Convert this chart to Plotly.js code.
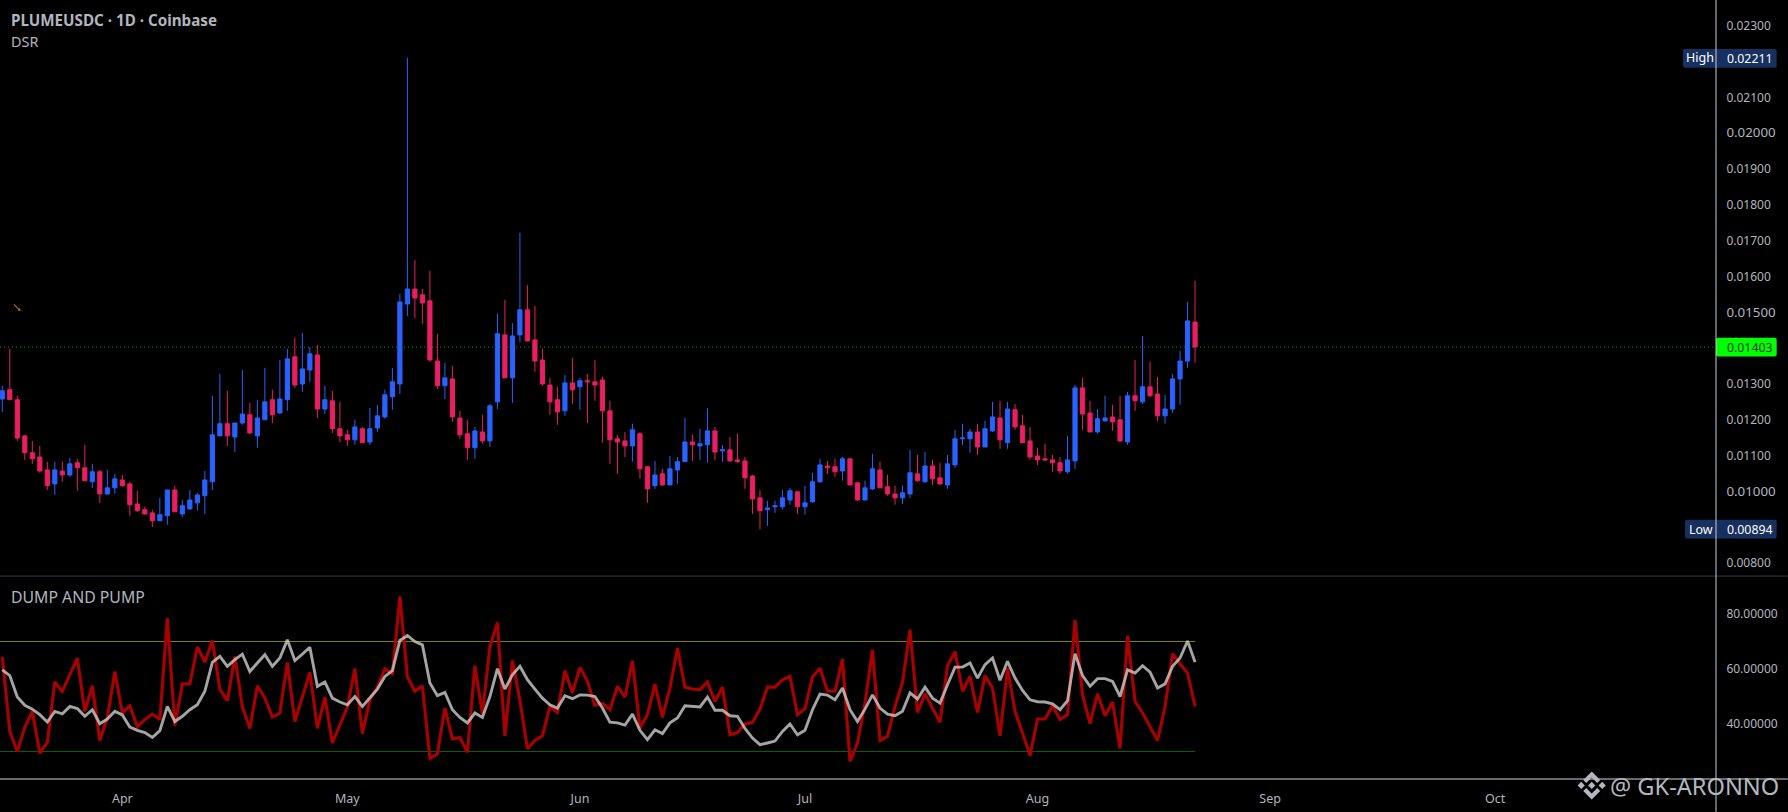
<!DOCTYPE html>
<html>
<head>
<meta charset="utf-8">
<script src="https://cdn.plot.ly/plotly-3.0.1.min.js"></script>
<style>html,body{margin:0;padding:0;background:#000;overflow:hidden}#chart{width:1788px;height:812px}</style>
</head>
<body>
<div id="chart"></div>
<script>
const firstDay = '2025-03-16';
const opens = [0.01258,0.01284,0.01256,0.01155,0.01108,0.01096,0.01060,0.01021,0.01057,0.01046,
0.01080,0.01066,0.01027,0.01055,0.00993,0.01010,0.01032,0.01021,0.00965,0.00949,
0.00940,0.00918,0.00932,0.01004,0.00937,0.00951,0.00968,0.00988,0.01027,0.01155,
0.01189,0.01152,0.01191,0.01214,0.01155,0.01200,0.01256,0.01219,0.01256,0.01376,
0.01300,0.01339,0.01381,0.01230,0.01253,0.01175,0.01158,0.01144,0.01175,0.01138,
0.01177,0.01208,0.01264,0.01300,0.01523,0.01565,0.01549,0.01532,0.01364,0.01295,
0.01314,0.01205,0.01161,0.01122,0.01166,0.01141,0.01250,0.01437,0.01317,0.01437,
0.01507,0.01423,0.01367,0.01297,0.01256,0.01225,0.01303,0.01292,0.01309,0.01306,
0.01311,0.01225,0.01147,0.01141,0.01127,0.01161,0.01069,0.01016,0.01049,0.01018,
0.01060,0.01083,0.01138,0.01127,0.01130,0.01169,0.01113,0.01116,0.01088,0.01085,
0.01043,0.00982,0.00949,0.00957,0.00957,0.00976,0.00999,0.00957,0.00971,0.01027,
0.01071,0.01069,0.01057,0.01091,0.01024,0.00976,0.01007,0.01060,0.01013,0.00993,
0.00982,0.00993,0.01049,0.01027,0.01071,0.01038,0.01018,0.01074,0.01147,0.01147,
0.01166,0.01124,0.01169,0.01205,0.01136,0.01228,0.01183,0.01141,0.01099,0.01091,
0.01088,0.01080,0.01055,0.01085,0.01289,0.01219,0.01166,0.01197,0.01208,0.01200,
0.01138,0.01267,0.01250,0.01292,0.01272,0.01211,0.01230,0.01314,0.01364,0.01473];
const highs = [0.01295,0.01398,0.01267,0.01158,0.01141,0.01127,0.01083,0.01083,0.01083,0.01094,
0.01091,0.01130,0.01077,0.01060,0.01060,0.01049,0.01046,0.01027,0.01002,0.00957,
0.00949,0.00982,0.01004,0.01016,0.00976,0.01004,0.00996,0.01057,0.01267,0.01328,
0.01281,0.01191,0.01339,0.01247,0.01256,0.01345,0.01284,0.01367,0.01398,0.01429,
0.01443,0.01403,0.01409,0.01295,0.01281,0.01250,0.01172,0.01200,0.01180,0.01233,
0.01242,0.01284,0.01345,0.01551,0.02211,0.01646,0.01565,0.01616,0.01440,0.01359,
0.01350,0.01225,0.01200,0.01180,0.01214,0.01244,0.01496,0.01535,0.01470,0.01722,
0.01576,0.01518,0.01398,0.01317,0.01292,0.01325,0.01373,0.01317,0.01328,0.01367,
0.01320,0.01253,0.01158,0.01166,0.01189,0.01166,0.01071,0.01085,0.01063,0.01099,
0.01096,0.01205,0.01158,0.01175,0.01233,0.01180,0.01130,0.01152,0.01161,0.01096,
0.01046,0.01004,0.00974,0.00974,0.01004,0.01010,0.00999,0.01016,0.01052,0.01091,
0.01085,0.01091,0.01096,0.01091,0.01024,0.01030,0.01105,0.01083,0.01046,0.01016,
0.01016,0.01116,0.01102,0.01110,0.01088,0.01080,0.01102,0.01172,0.01189,0.01175,
0.01189,0.01197,0.01250,0.01253,0.01250,0.01244,0.01214,0.01180,0.01122,0.01133,
0.01102,0.01096,0.01155,0.01297,0.01317,0.01253,0.01230,0.01267,0.01242,0.01267,
0.01278,0.01367,0.01434,0.01362,0.01320,0.01270,0.01328,0.01392,0.01529,0.01588];
const lows = [0.01222,0.01256,0.01141,0.01088,0.01077,0.01052,0.01004,0.00990,0.01027,0.01041,
0.01002,0.01030,0.01010,0.00968,0.00990,0.00993,0.01013,0.00932,0.00943,0.00935,
0.00901,0.00918,0.00907,0.00943,0.00929,0.00949,0.00946,0.00937,0.01004,0.01155,
0.01127,0.01110,0.01186,0.01161,0.01122,0.01200,0.01191,0.01216,0.01225,0.01289,
0.01278,0.01306,0.01205,0.01216,0.01163,0.01138,0.01127,0.01130,0.01136,0.01130,
0.01166,0.01203,0.01228,0.01272,0.01490,0.01484,0.01468,0.01362,0.01286,0.01258,
0.01194,0.01147,0.01088,0.01091,0.01133,0.01124,0.01230,0.01317,0.01247,0.01417,
0.01420,0.01334,0.01295,0.01214,0.01186,0.01211,0.01244,0.01228,0.01191,0.01253,
0.01136,0.01077,0.01049,0.01096,0.01083,0.01035,0.00968,0.01007,0.01016,0.01018,
0.01021,0.01083,0.01085,0.01088,0.01080,0.01088,0.01083,0.01083,0.01080,0.01007,
0.00937,0.00894,0.00904,0.00940,0.00949,0.00963,0.00937,0.00935,0.00968,0.01024,
0.01049,0.01041,0.01030,0.01018,0.00974,0.00976,0.01004,0.01010,0.00988,0.00963,
0.00965,0.00982,0.01027,0.01024,0.01018,0.01018,0.01007,0.01066,0.01130,0.01108,
0.01102,0.01124,0.01166,0.01119,0.01119,0.01172,0.01136,0.01088,0.01074,0.01085,
0.01055,0.01049,0.01049,0.01063,0.01172,0.01166,0.01161,0.01194,0.01169,0.01138,
0.01130,0.01225,0.01244,0.01264,0.01197,0.01189,0.01219,0.01242,0.01345,0.01359];
const closes = [0.01281,0.01256,0.01149,0.01108,0.01091,0.01057,0.01016,0.01060,0.01046,0.01077,
0.01066,0.01030,0.01055,0.00993,0.01010,0.01035,0.01016,0.00963,0.00946,0.00937,
0.00918,0.00935,0.01004,0.00943,0.00960,0.00976,0.00990,0.01032,0.01158,0.01189,
0.01155,0.01191,0.01216,0.01163,0.01205,0.01250,0.01214,0.01258,0.01370,0.01297,
0.01342,0.01384,0.01230,0.01256,0.01175,0.01155,0.01144,0.01180,0.01136,0.01175,
0.01211,0.01270,0.01306,0.01529,0.01565,0.01540,0.01526,0.01367,0.01295,0.01317,
0.01208,0.01158,0.01122,0.01169,0.01141,0.01239,0.01440,0.01317,0.01434,0.01507,
0.01420,0.01364,0.01300,0.01250,0.01222,0.01303,0.01284,0.01309,0.01306,0.01297,
0.01225,0.01144,0.01138,0.01127,0.01172,0.01063,0.01007,0.01046,0.01018,0.01063,
0.01083,0.01138,0.01130,0.01133,0.01169,0.01110,0.01116,0.01085,0.01083,0.01038,
0.00979,0.00946,0.00954,0.00960,0.00982,0.01002,0.00957,0.00968,0.01027,0.01074,
0.01066,0.01055,0.01091,0.01018,0.00976,0.01010,0.01063,0.01010,0.00993,0.00982,
0.00996,0.01052,0.01030,0.01071,0.01035,0.01021,0.01077,0.01147,0.01149,0.01166,
0.01124,0.01175,0.01208,0.01144,0.01230,0.01180,0.01136,0.01096,0.01088,0.01088,
0.01080,0.01057,0.01088,0.01289,0.01216,0.01166,0.01203,0.01205,0.01194,0.01141,
0.01267,0.01253,0.01292,0.01267,0.01211,0.01230,0.01314,0.01364,0.01476,0.01403];
const dumpPump = [64.4,37.3,30.0,38.9,44.6,29.4,33.3,55.3,51.9,57.9,
64.0,44.6,53.9,34.0,42.2,59.1,44.0,46.6,39.1,41.6,
43.6,41.6,78.5,39.4,54.6,54.6,68.0,62.5,70.4,52.7,
48.5,64.6,46.2,38.4,53.9,49.4,42.5,44.0,62.4,40.9,
50.3,58.8,38.4,49.8,33.1,39.4,46.2,60.1,36.5,48.8,
53.4,60.1,58.3,86.4,57.1,51.9,53.9,27.5,29.2,45.8,
34.6,35.1,29.7,61.2,43.7,68.2,76.9,35.7,63.1,48.6,
30.9,34.0,35.7,46.4,44.2,59.4,51.3,60.6,55.5,46.8,
47.6,45.2,53.7,49.8,63.0,38.5,43.4,54.5,42.4,53.1,
67.6,53.4,52.7,52.5,55.3,48.2,53.4,36.1,36.9,40.0,
40.6,45.4,53.4,53.4,56.1,57.3,43.4,45.6,57.1,60.3,
51.9,51.9,63.7,26.4,33.1,47.6,67.0,34.0,35.5,46.4,
55.1,74.3,44.2,51.0,46.0,40.6,61.2,66.4,51.9,57.3,
44.2,57.6,53.1,35.7,60.3,44.6,36.7,28.5,41.8,41.8,
46.6,41.6,43.4,77.9,50.6,40.1,51.0,43.0,48.0,31.1,
72.1,48.2,44.0,38.9,34.0,46.4,65.6,61.9,58.5,46.4];
const signal = [59.7,57.6,49.8,46.8,45.4,43.4,40.7,44.6,43.7,46.4,
45.6,42.8,45.2,40.1,41.8,44.6,43.3,38.9,37.7,36.9,
35.1,37.6,46.4,40.9,42.8,45.2,47.0,51.9,62.4,64.6,
61.0,63.4,65.4,59.1,62.2,65.2,61.0,64.0,70.6,63.1,
65.4,67.9,53.7,55.3,49.4,48.0,47.0,50.0,46.4,49.7,
52.7,57.3,59.4,70.4,72.2,70.0,68.8,54.9,50.3,51.5,
45.2,42.4,40.4,44.0,42.4,50.0,60.1,52.7,57.9,61.0,
56.1,52.7,49.4,47.0,45.8,50.3,49.2,50.6,50.5,50.0,
45.8,40.7,40.4,39.6,43.6,37.7,34.3,37.9,36.5,40.4,
42.2,46.6,46.3,46.2,49.8,45.0,45.0,43.0,42.8,38.4,
34.9,32.5,33.1,33.8,37.3,40.0,36.1,37.7,45.2,50.9,
50.5,48.8,53.1,45.2,40.9,45.4,50.6,45.8,43.6,43.0,
44.6,51.3,49.1,53.4,49.4,47.6,54.3,60.7,60.7,62.2,
56.7,61.6,64.0,55.9,62.8,56.7,52.2,48.8,48.1,48.0,
47.3,45.2,48.5,65.6,57.6,53.7,56.5,56.5,55.5,50.0,
59.7,58.5,61.2,58.9,53.1,54.6,61.0,64.0,70.2,62.5];
const upperLevel = 70, lowerLevel = 30;
const lastPrice = 0.01403, highPrice = '0.02211', lowPrice = '0.00894', lastLabel = '0.01403';
const priceTicks = [0.023,0.021,0.020,0.019,0.018,0.017,0.016,0.015,0.013,0.012,0.011,0.010,0.008];
const priceTickText = ['0.02300','0.02100','0.02000','0.01900','0.01800','0.01700','0.01600','0.01500','0.01300','0.01200','0.01100','0.01000','0.00800'];
const majorPriceLabels = ['0.02000','0.01500','0.01000'];
const indicatorTicks = [40,60,80];
const indicatorTickText = ['40.00000','60.00000','80.00000'];
const monthTicks = ['2025-04-01','2025-05-01','2025-06-01','2025-07-01','2025-08-01','2025-09-01','2025-10-01'];
const monthText = ['Apr','May','Jun','Jul','Aug','Sep','Oct'];
const xRange = ['2025-03-15 16:38','2025-10-30 10:38'];

const dates = opens.map((_, i) => {
  const d = new Date(firstDay + 'T00:00:00Z');
  d.setUTCDate(d.getUTCDate() + i);
  return d.toISOString().slice(0, 10);
});
const lastDate = dates[dates.length - 1];

const W = 1788, H = 812, PW = 1716.3, PH = 779.3, SEP = 576.3;
const PX = x => x / PW, PY = y => 1 - y / PH;
const FONT = '"Noto Sans", "Open Sans", sans-serif';
const TXT = '#b2b5be';

const traces = [
  {type:'scatter',mode:'lines',x:[xRange[0],xRange[1]],y:[lastPrice,lastPrice],xaxis:'x',yaxis:'y',
   line:{color:'#0c9a0c',width:1,dash:'1px,3px'},hoverinfo:'skip'},
  {type:'candlestick',x:dates,open:opens,high:highs,low:lows,close:closes,xaxis:'x',yaxis:'y',
   increasing:{line:{color:'#2962FF',width:1},fillcolor:'#2962FF'},
   decreasing:{line:{color:'#E91E63',width:1},fillcolor:'#E91E63'},whiskerwidth:0},
  {type:'scatter',mode:'lines',x:[xRange[0],lastDate],y:[upperLevel,upperLevel],xaxis:'x',yaxis:'y2',
   line:{color:'#808000',width:1.2},hoverinfo:'skip'},
  {type:'scatter',mode:'lines',x:[xRange[0],lastDate],y:[lowerLevel,lowerLevel],xaxis:'x',yaxis:'y2',
   line:{color:'#006400',width:1.2},hoverinfo:'skip'},
  {type:'scatter',mode:'lines',x:dates,y:dumpPump,xaxis:'x',yaxis:'y2',line:{color:'#AA0000',width:3.1},hoverinfo:'skip'},
  {type:'scatter',mode:'lines',x:dates,y:signal,xaxis:'x',yaxis:'y2',line:{color:'rgba(205,205,205,0.8)',width:2.9},hoverinfo:'skip'}
];

function rect(x0,y0,x1,y1,c){
  return {type:'path',xref:'paper',yref:'paper',layer:'below',fillcolor:c,line:{width:0},
    path:`M${PX(x0+2)} ${PY(y0)} L${PX(x1-2)} ${PY(y0)} Q${PX(x1)} ${PY(y0)} ${PX(x1)} ${PY(y0+2)} L${PX(x1)} ${PY(y1-2)} Q${PX(x1)} ${PY(y1)} ${PX(x1-2)} ${PY(y1)} L${PX(x0+2)} ${PY(y1)} Q${PX(x0)} ${PY(y1)} ${PX(x0)} ${PY(y1-2)} L${PX(x0)} ${PY(y0+2)} Q${PX(x0)} ${PY(y0)} ${PX(x0+2)} ${PY(y0)} Z`};
}
function poly(pts,c){
  return {type:'path',xref:'paper',yref:'paper',layer:'above',fillcolor:c,line:{width:0},
    path:'M'+pts.map(p=>PX(p[0])+' '+PY(p[1])).join(' L')+' Z'};
}
function hline(y,c){return {type:'line',xref:'paper',yref:'paper',x0:0,x1:W/PW,y0:PY(y),y1:PY(y),line:{color:c,width:1},layer:'above'};}
const LOGO = '#b4b7be', cx = 1592, cy = 785.7;
const dia = (dx,r)=>poly([[cx+dx,cy-r],[cx+dx+r,cy],[cx+dx,cy+r],[cx+dx-r,cy]],LOGO);
const shapes = [
  rect(1683.3,49,1777,67.7,'#17305f'),
  rect(1685.3,520,1777,538.7,'#17305f'),
  rect(1716.3,338,1777,356.7,'#00ff00'),
  hline(576.3,'#363a45'),
  hline(779.3,'#d1d4dc'),
  {type:'line',xref:'paper',yref:'paper',x0:1,x1:1,y0:1,y1:1-H/PH,line:{color:'#c9cbdc',width:1},layer:'above'},
  {type:'line',xref:'paper',yref:'paper',x0:PX(14),x1:PX(19),y0:PY(304.5),y1:PY(309.5),line:{color:'#a8700c',width:1.2},layer:'above'},
  poly([[20.5,311],[17.5,310.5],[20,308]],'#c87808'),
  dia(0,3.6),dia(-10.5,3.6),dia(10.5,3.6),
  poly([[cx,cy-14],[cx+8.5,cy-5.5],[cx+5.5,cy-2.5],[cx,cy-8],[cx-5.5,cy-2.5],[cx-8.5,cy-5.5]],LOGO),
  poly([[cx,cy+14],[cx+8.5,cy+5.5],[cx+5.5,cy+2.5],[cx,cy+8],[cx-5.5,cy+2.5],[cx-8.5,cy+5.5]],LOGO)
];
function label(x,y,text,size,color,extra){
  return Object.assign({xref:'paper',yref:'paper',x:PX(x),y:PY(y),text:text,showarrow:false,xanchor:'left',yanchor:'middle',
    borderpad:0,font:{family:FONT,size:size,color:color}},extra||{});
}
const annotations = [
  label(9.8,20.5,'<b>PLUMEUSDC · 1D · Coinbase</b>',15.2,TXT),
  label(9.8,42,'DSR',14.4,TXT),
  label(9.8,597,'DUMP AND PUMP',15.8,TXT),
  label(1685,58,'High',12.5,'#ffffff'),
  label(1726.5,58.6,highPrice,12.3,'#ffffff'),
  label(1688,529.8,'Low',12.5,'#ffffff'),
  label(1726.5,529.8,lowPrice,12.3,'#ffffff'),
  label(1726.5,347.6,lastLabel,12.3,'#0a3a0a'),
  label(1609,786,'@ GK-ARONNO',23.6,'#b4b7be')
];
const priceText = priceTickText.map(t => majorPriceLabels.includes(t) ? `<span style="font-size:13.3px">${t}</span>` : t);
const layout = {
  width:W,height:H,paper_bgcolor:'#000',plot_bgcolor:'#000',showlegend:false,hovermode:false,
  margin:{l:0,r:W-PW,t:0,b:H-PH,pad:0},boxgap:0.44,boxgroupgap:0,
  font:{family:FONT,size:12,color:TXT},
  xaxis:{type:'date',range:xRange,anchor:'y2',rangeslider:{visible:false},showgrid:false,zeroline:false,showline:false,
    tickmode:'array',tickvals:monthTicks,ticktext:monthText,ticks:'outside',ticklen:8,tickcolor:'#000',tickfont:{family:FONT,size:12.5,color:TXT}},
  yaxis:{domain:[(PH-SEP)/PH,1],range:[0.007636,0.02372],side:'right',anchor:'x',showgrid:false,zeroline:false,showline:false,
    tickmode:'array',tickvals:priceTicks,ticktext:priceText,ticks:'outside',ticklen:7,tickcolor:'#000',tickfont:{family:FONT,size:12,color:TXT}},
  yaxis2:{domain:[0,(PH-SEP)/PH],range:[20,93.8],side:'right',anchor:'x',showgrid:false,zeroline:false,showline:false,
    tickmode:'array',tickvals:indicatorTicks,ticktext:indicatorTickText,ticks:'outside',ticklen:7,tickcolor:'#000',tickfont:{family:FONT,size:12,color:TXT}},
  shapes:shapes,annotations:annotations
};
Plotly.newPlot('chart',traces,layout,{displayModeBar:false,staticPlot:true});
</script>
</body>
</html>
